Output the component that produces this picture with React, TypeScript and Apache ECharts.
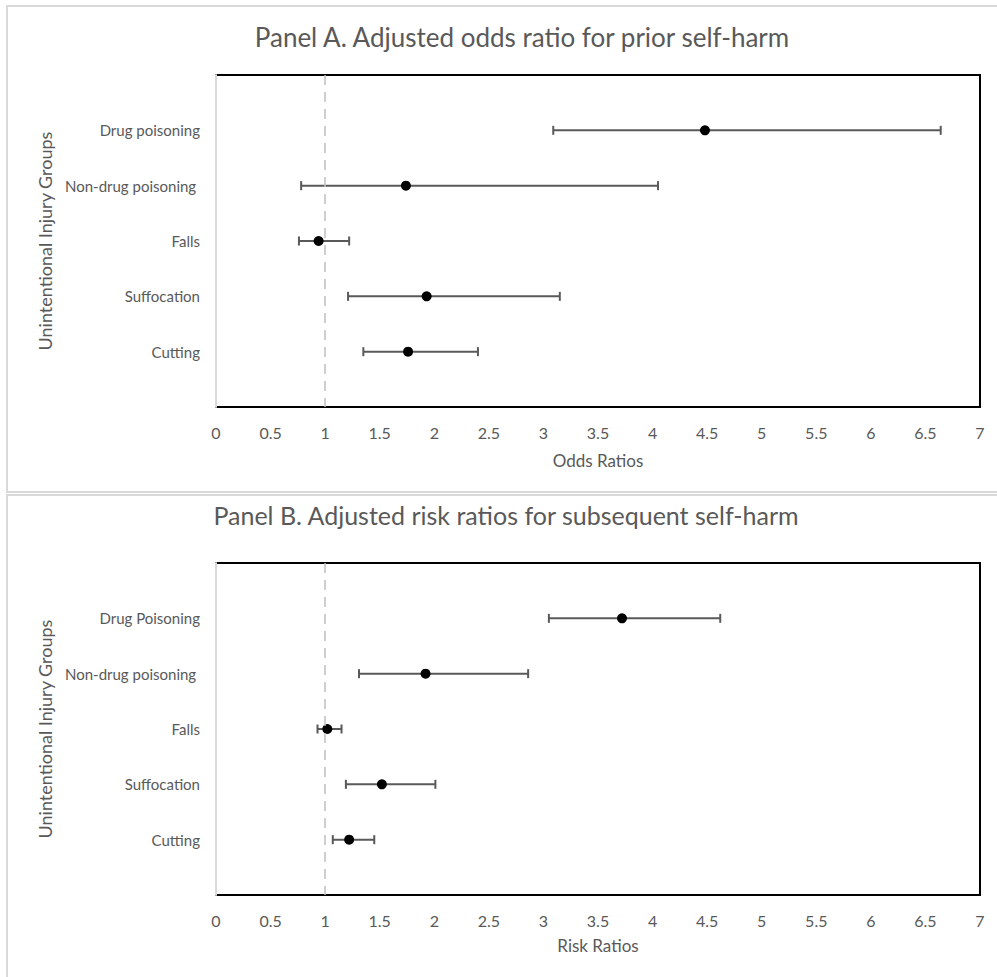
import React, { useEffect, useRef } from "react";
import * as echarts from "echarts";

// Panel A: adjusted odds ratios for prior self-harm
const categoriesA = ["Drug poisoning", "Non-drug poisoning ", "Falls", "Suffocation", "Cutting"];
const pointA = [4.48, 1.74, 0.94, 1.93, 1.76];
const lowA = [3.09, 0.78, 0.76, 1.21, 1.35];
const highA = [6.64, 4.05, 1.22, 3.15, 2.4];

// Panel B: adjusted risk ratios for subsequent self-harm
const categoriesB = ["Drug Poisoning", "Non-drug poisoning ", "Falls", "Suffocation", "Cutting"];
const pointB = [3.72, 1.92, 1.02, 1.52, 1.22];
const lowB = [3.05, 1.31, 0.93, 1.19, 1.07];
const highB = [4.62, 2.86, 1.15, 2.01, 1.45];

const xMin = 0;
const xMax = 7;
const xInterval = 0.5;
const referenceValue = 1;

const titleA = "Panel A. Adjusted odds ratio for prior self-harm";
const titleB = "Panel B. Adjusted risk ratios for subsequent self-harm";
const xNameA = "Odds Ratios";
const xNameB = "Risk Ratios";
const yName = "Unintentional Injury Groups";

const FONT = "Lato";
const GRAY = "#595959";

export default function App() {
  const ref = useRef<HTMLDivElement>(null);

  useEffect(() => {
    if (!ref.current) return;
    const chart = echarts.init(ref.current, undefined, { renderer: "svg" });

    const makeX = (gridIndex: number, name: string, nameGap: number) => ({
      type: "value",
      gridIndex,
      min: xMin,
      max: xMax,
      interval: xInterval,
      name,
      nameLocation: "middle",
      nameGap,
      nameTextStyle: { color: GRAY, fontSize: 17, fontFamily: FONT },
      axisLine: { show: false },
      axisTick: { show: false },
      splitLine: { show: false },
      axisLabel: { color: GRAY, fontSize: 16, fontFamily: FONT, margin: 17 },
    });

    const makeY = (gridIndex: number, cats: string[]) => ({
      type: "value",
      gridIndex,
      min: 0,
      max: cats.length + 1,
      interval: 1,
      inverse: true,
      z: 5,
      name: yName,
      nameLocation: "middle",
      nameRotate: 90,
      nameGap: 162,
      nameTextStyle: { color: GRAY, fontSize: 18, fontFamily: FONT },
      axisLine: { show: true, lineStyle: { color: "#d9d9d9", width: 2 } },
      axisTick: { show: false },
      splitLine: { show: false },
      axisLabel: {
        color: GRAY,
        fontSize: 15,
        fontFamily: FONT,
        margin: 16,
        formatter: (v: number) => (v >= 1 && v <= cats.length ? cats[v - 1] : ""),
      },
    });

    const errorSeries = (idx: number, lows: number[], highs: number[]) => ({
      type: "custom",
      xAxisIndex: idx,
      yAxisIndex: idx,
      data: lows.map((lo, i) => [i + 1, lo, highs[i]]),
      encode: { x: [1, 2], y: 0 },
      renderItem: (params: any, api: any) => {
        const y = api.value(0);
        const p1 = api.coord([api.value(1), y]);
        const p2 = api.coord([api.value(2), y]);
        const cap = 4.5;
        const st = { stroke: GRAY, lineWidth: 2 };
        return {
          type: "group",
          children: [
            { type: "line", shape: { x1: p1[0], y1: p1[1], x2: p2[0], y2: p2[1] }, style: st },
            { type: "line", shape: { x1: p1[0], y1: p1[1] - cap, x2: p1[0], y2: p1[1] + cap }, style: st },
            { type: "line", shape: { x1: p2[0], y1: p2[1] - cap, x2: p2[0], y2: p2[1] + cap }, style: st },
          ],
        };
      },
      z: 2,
    });

    const pointSeries = (idx: number, pts: number[]) => ({
      type: "scatter",
      xAxisIndex: idx,
      yAxisIndex: idx,
      data: pts.map((p, i) => [p, i + 1]),
      symbol: "circle",
      symbolSize: 10,
      itemStyle: { color: "#000", opacity: 1 },
      z: 3,
      markLine: {
        silent: true,
        symbol: "none",
        label: { show: false },
        lineStyle: { color: "#bfbfbf", type: [10, 7], width: 1.5 },
        data: [{ xAxis: referenceValue }],
      },
    });

    chart.setOption({
      animation: false,
      backgroundColor: "#fff",
      textStyle: { fontFamily: FONT },
      graphic: [
        { type: "rect", shape: { x: 7, y: 6, width: 1000, height: 486 }, style: { fill: "none", stroke: "#d9d9d9", lineWidth: 2 }, z: -1 },
        { type: "rect", shape: { x: 7, y: 495, width: 1000, height: 500 }, style: { fill: "none", stroke: "#d9d9d9", lineWidth: 2 }, z: -1 },
        { type: "text", x: 522, y: 37, style: { text: titleA, fill: GRAY, font: `26px ${FONT}`, align: "center", verticalAlign: "middle" } },
        { type: "text", x: 506, y: 515, style: { text: titleB, fill: GRAY, font: `25px ${FONT}`, align: "center", verticalAlign: "middle" } },
      ],
      grid: [
        { left: 216, top: 75, width: 764, height: 332, show: true, borderColor: "#000", borderWidth: 2, backgroundColor: "transparent" },
        { left: 216, top: 563, width: 764, height: 332, show: true, borderColor: "#000", borderWidth: 2, backgroundColor: "transparent" },
      ],
      xAxis: [makeX(0, xNameA, 45), makeX(1, xNameB, 42)],
      yAxis: [makeY(0, categoriesA), makeY(1, categoriesB)],
      series: [
        errorSeries(0, lowA, highA),
        pointSeries(0, pointA),
        errorSeries(1, lowB, highB),
        pointSeries(1, pointB),
      ],
    });

    return () => chart.dispose();
  }, []);

  return (
    <div
      ref={ref}
      style={{ position: "absolute", left: 0, top: 0, width: 997, height: 977 }}
    />
  );
}
